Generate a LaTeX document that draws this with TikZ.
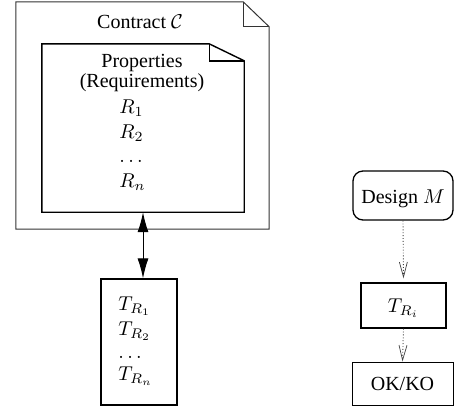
\documentclass[tikz,border=0pt]{standalone}
\usepackage[no-math]{fontspec}
\setmainfont{Liberation Serif}
\usetikzlibrary{arrows.meta,calc}

\tikzset{
  x=1pt, y=-1pt,
  bigfont/.style={font=\fontsize{10}{11}\selectfont, scale=2},
  txt/.style={inner sep=0pt, anchor=base, bigfont},
  ltxt/.style={txt, anchor=base west},
  frame/.style={inner sep=0pt, draw=none},
  outerline/.style={draw=black!80, line width=1pt, line join=miter},
  innerline/.style={draw=black, line width=1.4pt, line join=miter},
  plainbox/.style={draw=black, line width=1.3pt, inner sep=0pt},
  bigtip/.style={{Latex[length=20pt,width=11pt]}-{Latex[length=20pt,width=11pt]}, line width=1pt},
  dotarrow/.style={-{Straight Barb[length=15pt,width=8pt,line width=0.7pt]}, dotted, draw=black!75, line width=0.9pt},
}

\begin{document}
\begin{tikzpicture}
\useasboundingbox (0,0) rectangle (454,408);

% contract document with folded corner
\node[frame, minimum width=253pt, minimum height=227pt] (contract) at (142.5,115.5) {};
\draw[outerline] (contract.north west) -- ($(contract.north east)+(-26,0)$)
  -- ($(contract.north east)+(0,25)$) -- (contract.south east)
  -- (contract.south west) -- cycle;
\draw[outerline] ($(contract.north east)+(-26,0)$) -- ($(contract.north east)+(-26,25)$)
  -- ($(contract.north east)+(0,25)$);
\node[txt] (ctitle) at (140,28) {Contract $\mathcal{C}$};

% properties document inside the contract
\node[frame, minimum width=202pt, minimum height=168pt] (props) at (143,128) {};
\draw[innerline] (props.north west) -- ($(props.north east)+(-35,0)$)
  -- ($(props.north east)+(0,17)$) -- (props.south east)
  -- (props.south west) -- cycle;
\draw[innerline] ($(props.north east)+(-35,0)$) -- ($(props.north east)+(-35,17)$)
  -- ($(props.north east)+(0,17)$);
\node[txt, align=center, font=\fontsize{10}{8.6}\selectfont, anchor=north]
  (ptitle) at (142,54) {Properties\\(Requirements)};
\node[ltxt] (r1) at (119,113) {$R_1$};
\node[ltxt] (r2) at (119,138) {$R_2$};
\node[ltxt] (rd) at (119,162) {$\dots$};
\node[ltxt] (rn) at (119,187) {$R_n$};

% tests box
\node[plainbox, minimum width=76pt, minimum height=126pt] (tests) at (139,342) {};
\node[ltxt] (t1) at (118,310) {$T_{R_1}$};
\node[ltxt] (t2) at (118,335) {$T_{R_2}$};
\node[ltxt] (td) at (118,358) {$\dots$};
\node[ltxt] (tn) at (118,380) {$T_{R_n}$};

\draw[bigtip] (props.south -| 143,0) -- (tests.north -| 143,0);

% design flow on the right
\node[plainbox, rounded corners=10pt, minimum width=100pt, minimum height=49pt] (design) at (403,195.5) {};
\node[txt] (dlabel) at (403,203) {Design $M$};
\node[plainbox, minimum width=85pt, minimum height=45pt] (tri) at (403.5,305.5) {};
\node[txt] (trilabel) at (403.5,312) {$T_{R_i}$};
\node[plainbox, line width=1pt, minimum width=101pt, minimum height=43pt] (okko) at (402.5,383.5) {};
\node[txt] (okkolabel) at (402.5,390) {OK/KO};

\draw[dotarrow] (design.south) -- ($(tri.north)+(0,-4)$);
\draw[dotarrow] (tri.south) -- (okko.north);
\end{tikzpicture}
\end{document}
